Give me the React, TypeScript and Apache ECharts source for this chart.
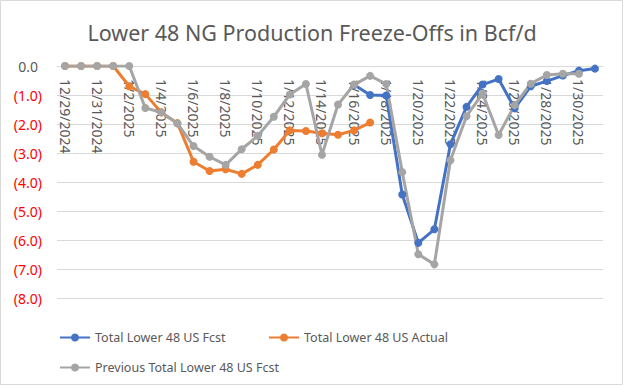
import React, { useEffect, useRef } from "react";
import * as echarts from "echarts";

const categories = [
  "12/29/2024", "12/30/2024", "12/31/2024", "1/1/2025", "1/2/2025", "1/3/2025",
  "1/4/2025", "1/5/2025", "1/6/2025", "1/7/2025", "1/8/2025", "1/9/2025",
  "1/10/2025", "1/11/2025", "1/12/2025", "1/13/2025", "1/14/2025", "1/15/2025",
  "1/16/2025", "1/17/2025", "1/18/2025", "1/19/2025", "1/20/2025", "1/21/2025",
  "1/22/2025", "1/23/2025", "1/24/2025", "1/25/2025", "1/26/2025", "1/27/2025",
  "1/28/2025", "1/29/2025", "1/30/2025", "1/31/2025",
];

const fcst = [
  null, null, null, null, null, null, null, null, null, null, null, null,
  null, null, null, null, null, null,
  -0.65, -1.0, -1.02, -4.43, -6.1, -5.63, -2.7, -1.41, -0.64, -0.45, -1.46,
  -0.7, -0.52, -0.33, -0.16, -0.09,
];

const actual = [
  0, 0, 0, 0, -0.7, -0.97, -1.6, -1.97, -3.3, -3.62, -3.56, -3.72, -3.41,
  -2.88, -2.22, -2.24, -2.32, -2.37, -2.22, -1.95,
  null, null, null, null, null, null, null, null, null, null, null, null, null, null,
];

const previous = [
  0, 0, 0, 0, 0, -1.45, -1.6, -1.98, -2.76, -3.13, -3.41, -2.87, -2.41,
  -1.75, -0.98, -0.62, -3.06, -1.33, -0.64, -0.34, -0.62, -3.66, -6.49,
  -6.84, -3.25, -1.73, -0.95, -2.38, -1.35, -0.61, -0.31, -0.27, -0.27, null,
];

const seriesNames = [
  "Total Lower 48 US Fcst",
  "Total Lower 48 US Actual",
  "Previous Total Lower 48 US Fcst",
];
const colors = ["#4472C4", "#ED7D31", "#A5A5A5"];

const FONT = "'Noto Sans', sans-serif";

export default function App() {
  const ref = useRef<HTMLDivElement>(null);
  useEffect(() => {
    if (!ref.current) return;
    const chart = echarts.init(ref.current, undefined, { renderer: "svg" });
    const mkSeries = (name: string, data: (number | null)[], color: string) => ({
      name,
      type: "line",
      data,
      symbol: "circle",
      symbolSize: 8,
      showSymbol: true,
      connectNulls: false,
      lineStyle: { color, width: 3 },
      itemStyle: { color },
      emphasis: { disabled: true },
    });
    const legendBase = {
      itemWidth: 30,
      itemHeight: 10,
      itemGap: 0,
      textStyle: { color: "#595959", fontSize: 12.5, fontFamily: FONT },
    };
    chart.setOption({
      animation: false,
      backgroundColor: "#ffffff",
      color: colors,
      title: {
        text: "Lower 48 NG Production Freeze-Offs in Bcf/d",
        left: "center",
        top: 16,
        textStyle: { color: "#595959", fontSize: 21.5, fontWeight: "normal", fontFamily: FONT },
      },
      legend: [
        { ...legendBase, data: [seriesNames[0]], left: 54, top: 326 },
        { ...legendBase, data: [seriesNames[1]], left: 263, top: 326 },
        { ...legendBase, data: [seriesNames[2]], left: 54, top: 356 },
      ],
      grid: { left: 57, right: 21, top: 66, bottom: 88, containLabel: false },
      xAxis: {
        type: "category",
        data: categories,
        position: "top",
        boundaryGap: true,
        axisLine: { onZero: false, lineStyle: { color: "#d9d9d9", width: 1 } },
        axisTick: { show: false },
        axisLabel: {
          inside: true,
          interval: 1,
          rotate: 90,
          margin: 13,
          color: "#595959",
          fontSize: 14,
          fontFamily: FONT,
        },
        splitLine: { show: false },
      },
      yAxis: {
        type: "value",
        min: -8,
        max: 0,
        interval: 1,
        axisLine: { show: false },
        axisTick: { show: false },
        splitLine: { lineStyle: { color: "#d9d9d9", width: 1 } },
        axisLabel: {
          margin: 15,
          fontSize: 14,
          fontFamily: FONT,
          formatter: (v: number) =>
            v === 0 ? "{z|0.0}" : "{n|(" + Math.abs(v).toFixed(1) + ")}",
          rich: {
            z: { color: "#595959", fontSize: 14, fontFamily: FONT, padding: [0, 4, 0, 0] },
            n: { color: "#FF0000", fontSize: 14, fontFamily: FONT },
          },
        },
      },
      graphic: [
        {
          type: "rect",
          shape: { x: 0.5, y: 0.5, width: 622, height: 384 },
          style: { fill: "none", stroke: "#d9d9d9", lineWidth: 1 },
          silent: true,
        },
      ],
      series: [
        mkSeries(seriesNames[0], fcst, colors[0]),
        mkSeries(seriesNames[1], actual, colors[1]),
        mkSeries(seriesNames[2], previous, colors[2]),
      ],
    });
    return () => chart.dispose();
  }, []);
  return (
    <div
      ref={ref}
      style={{ position: "absolute", left: 0, top: 0, width: 624, height: 386, background: "#fff" }}
    />
  );
}
